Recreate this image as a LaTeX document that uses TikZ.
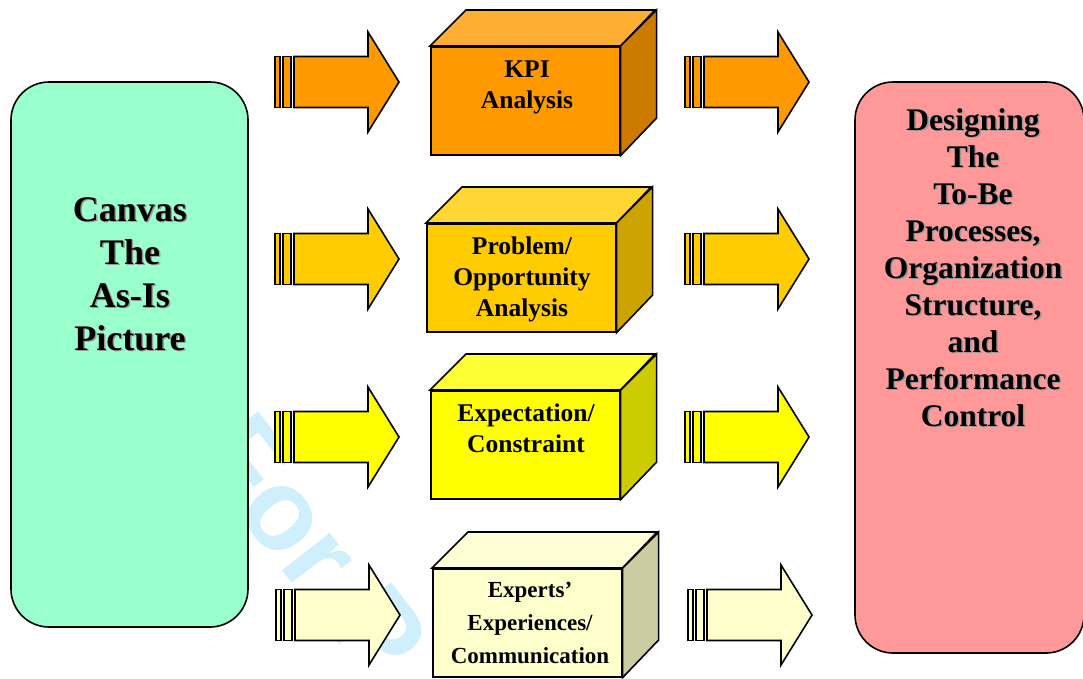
\documentclass[tikz,border=0pt]{standalone}
\usepackage{fontspec}
\setmainfont{Liberation Serif}
\newfontfamily\wmfont{Liberation Sans}
\definecolor{asisgreen}{HTML}{99FFCC}
\definecolor{tobered}{HTML}{FF9999}
\definecolor{wmblue}{HTML}{CFEFFC}
\definecolor{shadowgrey}{HTML}{9A9A9A}
\definecolor{orA}{HTML}{FF9900}\definecolor{orT}{HTML}{FFAD33}\definecolor{orS}{HTML}{CC7A00}
\definecolor{goA}{HTML}{FFCC00}\definecolor{goT}{HTML}{FFD633}\definecolor{goS}{HTML}{CCA300}
\definecolor{yeA}{HTML}{FFFF00}\definecolor{yeT}{HTML}{FFFF33}\definecolor{yeS}{HTML}{CCCC00}
\definecolor{crA}{HTML}{FFFFCC}\definecolor{crT}{HTML}{FFFFD6}\definecolor{crS}{HTML}{CCCCA3}
\tikzset{
  outl/.style={draw=black, line width=1.6pt, line join=miter},
  bigbox/.style={outl, rounded corners=38pt, inner sep=0pt},
  cubetxt/.style={font=\bfseries\fontsize{25.5}{31}\selectfont, align=center, inner sep=0pt},
  smalltxt/.style={font=\bfseries\fontsize{23}{33}\selectfont, align=center, inner sep=0pt},
  asistxt/.style={font=\bfseries\fontsize{36}{43}\selectfont, align=center, inner sep=0pt},
  tobetxt/.style={font=\bfseries\fontsize{31.5}{37}\selectfont, align=center, inner sep=0pt},
  shadowed/.style={text=shadowgrey},
  wmark/.style={font=\wmfont\bfseries\fontsize{115}{115}\selectfont, text=wmblue, inner sep=0pt}
}
% block arrow: x of tail, y of centre, fill colour
\newcommand\blockarr[3]{%
  \draw[outl, fill=#3] (#1,#2-25.5) rectangle (#1+5,#2+25.5);
  \draw[outl, fill=#3] (#1+8,#2-25.5) rectangle (#1+16,#2+25.5);
  \draw[outl, fill=#3] (#1+19,#2-25.5) -- (#1+93,#2-25.5) -- (#1+93,#2-50)
    -- (#1+124,#2) -- (#1+93,#2+50) -- (#1+93,#2+25.5) -- (#1+19,#2+25.5) -- cycle;
}
% cube: name, left x, top y, front, top, side colours
\newcommand\cubebox[6]{%
  \node[outl, fill=#4, minimum width=189pt, minimum height=108pt, inner sep=0pt,
        anchor=north west] (#1) at (#2,#3) {};
  \draw[outl, fill=#5] (#1.north west) -- ++(36,-36) -- ++(189,0) -- (#1.north east) -- cycle;
  \draw[outl, fill=#6] (#1.north east) -- ++(36,-36) -- ++(0,108) -- (#1.south east) -- cycle;
}
\begin{document}
\begin{tikzpicture}[x=1pt, y=-1pt]
  \useasboundingbox (0,0) rectangle (1083,678);
  \fill[white] (0,0) rectangle (1083,678);
  % watermark
  \node[wmark, rotate=-52, anchor=base west] (watermark) at (191,454) {For P};
  % side boxes
  \node[bigbox, fill=asisgreen, minimum width=237pt, minimum height=545pt] (asis) at (129.5,354.5) {};
  \node[bigbox, fill=tobered, minimum width=229pt, minimum height=571pt] (tobe) at (969.5,367.5) {};
  \node[asistxt, shadowed] (asisshadow) at (131.5,275.5) {Canvas\\The\\As-Is\\Picture};
  \node[asistxt] (asistext) at (130,274) {Canvas\\The\\As-Is\\Picture};
  \node[tobetxt, shadowed] (tobeshadow) at (974.5,268.8) {Designing\\The\\To-Be\\Processes,\\Organization\\Structure,\\and\\Performance\\Control};
  \node[tobetxt] (tobetext) at (973,267.3) {Designing\\The\\To-Be\\Processes,\\Organization\\Structure,\\and\\Performance\\Control};
  % arrows
  \blockarr{275}{82}{orA}
  \blockarr{685}{82}{orA}
  \blockarr{275}{259}{goA}
  \blockarr{685}{259}{goA}
  \blockarr{275}{437}{yeA}
  \blockarr{685}{437}{yeA}
  \blockarr{276}{615}{crA}
  \blockarr{688}{615}{crA}
  % cubes
  \cubebox{kpi}{430}{46}{orA}{orT}{orS}
  \cubebox{prob}{426}{223}{goA}{goT}{goS}
  \cubebox{expc}{430}{390}{yeA}{yeT}{yeS}
  \cubebox{expt}{432}{568}{crA}{crT}{crS}
  \node[cubetxt] (kpitext) at (527,87.5) {KPI\\Analysis};
  \node[cubetxt] (probtext) at (522,279.8) {Problem/\\Opportunity\\Analysis};
  \node[cubetxt] (expctext) at (526,428) {Expectation/\\Constraint};
  \node[smalltxt] (expttext) at (530,623) {Experts’\\Experiences/\\Communication};
\end{tikzpicture}
\end{document}
